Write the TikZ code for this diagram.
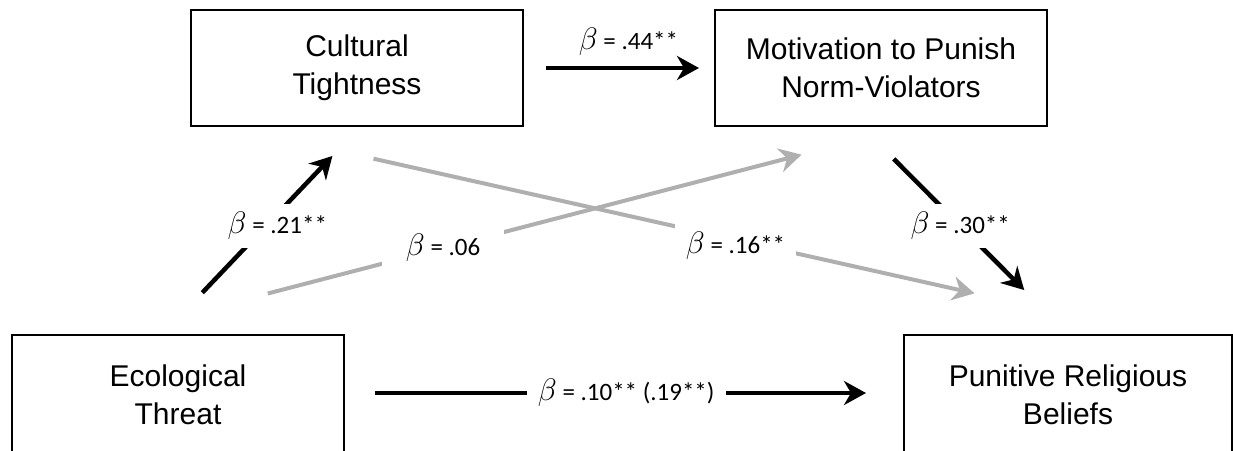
\documentclass[tikz,border=0pt]{standalone}
\usepackage{fontspec}
\setmainfont{Liberation Sans}
\newfontfamily\lblfont{Carlito}
\usetikzlibrary{arrows.meta,positioning,calc}

\definecolor{pathgray}{RGB}{175,175,175}
\newcommand{\bsym}{\scalebox{1.25}{$\beta$}}

\begin{document}
\begin{tikzpicture}[x=1pt, y=-1pt,
    box/.style={rectangle, draw, line width=2pt, minimum width=332pt, minimum height=116pt, inner sep=0pt, align=center, font=\fontsize{30}{38}\selectfont},
    lbl/.style={text=black, font=\lblfont\fontsize{25}{28}\selectfont, inner sep=2pt},
    gap/.style={lbl, fill=white, inner xsep=11pt, inner ysep=8pt},
    blk/.style={line width=4.5pt, -{Stealth[length=22pt, width=24pt, inset=7pt]}},
    gry/.style={line width=4pt, pathgray, -{Stealth[length=22pt, width=24pt, inset=7pt]}}]
    \useasboundingbox (0,0) rectangle (1233,450);
    \clip (0,0) rectangle (1233,450);

    % Boxes
    \node (cult) [box] at (357,68) {Cultural\\Tightness};
    \node (motiv) [box, right=190pt of cult] {Motivation to Punish\\Norm-Violators};
    \node (eco) [box, minimum height=120pt] at (178,395) {Ecological\\Threat};
    \node (pun) [box, right=558pt of eco, minimum width=328pt, minimum height=120pt] {Punitive Religious\\Beliefs};

    % Paths
    \draw [blk, shorten <=22pt, shorten >=15pt] (cult.east) -- node (b1) [lbl, above=8pt, pos=.55] {\bsym{} = .44**} (motiv.west);
    \draw [blk, shorten <=57pt, shorten >=40pt] ($(eco.north)+(-15,0)$) -- node (b2) [gap, pos=.55, xshift=6pt, yshift=-6pt] {\bsym{} = .21**} ($(cult.south)+(3,0)$);
    \draw [gry, shorten <=161pt, shorten >=110pt] ($(eco.north)+(-66,0)$) -- node (b3) [gap, pos=.416, inner xsep=24pt] {\bsym{} = .06} ($(motiv.south)+(27,0)$);
    \draw [gry, shorten <=145pt, shorten >=186pt] ($(cult.south)+(-125,0)$) -- node (b4) [gap, pos=.545, yshift=-6pt] {\bsym{} = .16**} ($(pun.north)+(88,0)$);
    \draw [blk, shorten <=45pt, shorten >=62pt] ($(motiv.south)+(-19,0)$) -- node (b5) [gap, pos=.477] {\bsym{} = .30**} (pun.north);
    \draw [blk, shorten <=30pt, shorten >=37pt] ($(eco.east)+(0,-2)$) -- node (b6) [gap, pos=.504] {\bsym{} = .10** (.19**)} ($(pun.west)+(0,-2)$);
\end{tikzpicture}
\end{document}
